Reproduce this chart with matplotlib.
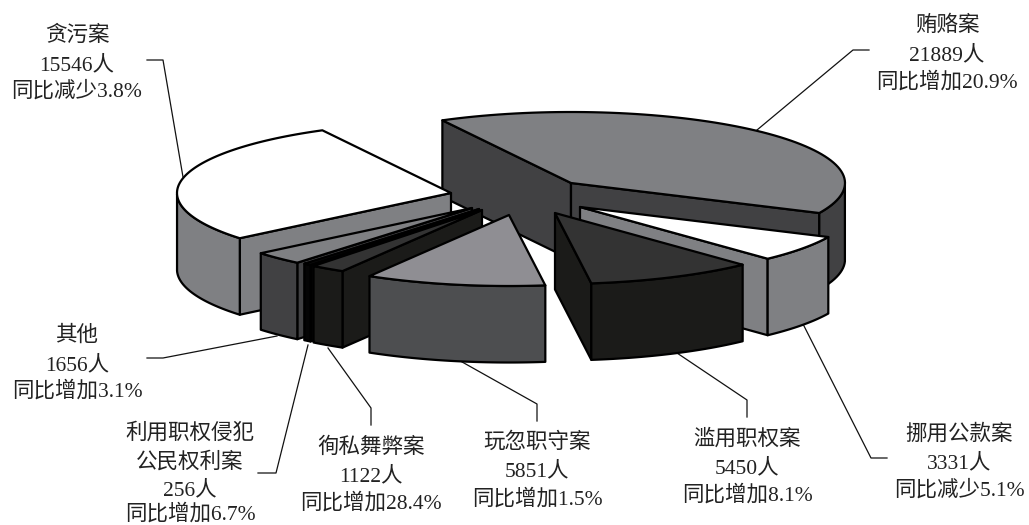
# -*- coding: utf-8 -*-
"""3D style exploded pie: duty crime cases by type (drawn by hand, matplotlib has no 3D pie)."""

import numpy as np
import matplotlib
matplotlib.use("Agg")
import matplotlib.pyplot as plt
from matplotlib.patches import Polygon

plt.rcParams['font.family'] = ['Liberation Serif', 'Noto Sans CJK SC']

# DATA (clockwise, starting from the largest slice)
case_names = ['贿赂案', '挪用公款案', '滥用职权案', '玩忽职守案', '徇私舞弊案',
              '利用职权侵犯\n公民权利案', '其他', '贪污案']
people = [21889, 3331, 5450, 5851, 1122, 256, 1656, 15546]
changes = ['同比增加20.9%', '同比减少5.1%', '同比增加8.1%', '同比增加1.5%',
           '同比增加28.4%', '同比增加6.7%', '同比增加3.1%', '同比减少3.8%']

# LAYOUT, all in pixels of the 1029x525 picture
RX, RY = 274, 71         # half axes of the pie ellipse
DEPTH = 76.5             # thickness of the pie
START = -28              # angle of first slice, degrees clockwise from top
BASELINE = 8             # glyph centre to baseline
apex = [(571, 183), (580, 207), (555, 213), (509, 215),
        (482, 210), (479, 209), (472, 208), (451, 193)]
top_colors = ['#7f8083', '#ffffff', '#333333', '#8f8e93', '#333333', '#0a0a0a', '#7f8083', '#ffffff']
side_colors = ['#414143', '#7f8083', '#1b1b19', '#4d4e50', '#1b1b19', '#050505', '#414143', '#7f8083']
draw_order = [0, 7, 1, 6, 5, 4, 3, 2]  # back to front

label_x = [947, 959, 747, 537, 371, 190, 77, 77]
label_y = [[23, 52, 80], [432, 460, 488], [437, 465, 493], [440, 468, 497],
           [445, 473, 501], [431, 460, 487, 512], [333, 362, 389], [33, 62, 89]]
leaders = [
    [(757, 130), (853, 50), (869, 50)],
    [(803, 324), (871, 458), (887, 458)],
    [(677, 353), (747, 400), (747, 417)],
    [(455, 358), (537, 404), (537, 421)],
    [(328, 348), (371, 408), (371, 425)],
    [(308, 345), (276, 473), (258, 473)],
    [(277, 336), (163, 358), (147, 358)],
    [(183, 177), (163, 60), (147, 60)],
]


def rim_point(center, t):
    return (center[0] + RX * np.sin(t), center[1] - RY * np.cos(t))


def draw_slice(ax, center, t0, t1, top, side):
    ts = np.linspace(t0, t1, 80)
    rim = [rim_point(center, t) for t in ts]

    def face(points, color):
        low = [(x, y + DEPTH) for x, y in reversed(points)]
        ax.add_patch(Polygon(points + low, closed=True, facecolor=color,
                             edgecolor='black', linewidth=1.6, joinstyle='round'))

    # cut faces, only the ones turned to the viewer
    if np.sin(t0) < 0:
        face([center, rim[0]], side)
    if np.sin(t1) > 0:
        face([center, rim[-1]], side)

    # outer wall, front half only
    front = [p for p, t in zip(rim, ts) if np.cos(t) < 0]
    if len(front) > 1:
        face(front, side)

    ax.add_patch(Polygon([center] + rim, closed=True, facecolor=top,
                         edgecolor='black', linewidth=1.6, joinstyle='round'))


fig = plt.figure(figsize=(10.29, 5.25), dpi=100)
ax = fig.add_axes([0, 0, 1, 1])
ax.set_xlim(0, 1029)
ax.set_ylim(525, 0)
ax.axis('off')

# slice angles come from the values
angles = np.radians(START + np.cumsum([0] + people) / sum(people) * 360)

for line in leaders:
    xs, ys = zip(*line)
    ax.plot(xs, ys, color='#111111', linewidth=0.9, zorder=0)

for i in draw_order:
    draw_slice(ax, apex[i], angles[i], angles[i + 1], top_colors[i], side_colors[i])

for i in range(len(people)):
    lines = case_names[i].split('\n') + [f'{people[i]}人', changes[i]]
    for text, y in zip(lines, label_y[i]):
        ax.text(label_x[i], y + BASELINE, text, ha='center', va='baseline',
                fontsize=15.5, color='#222222')

fig.savefig('out.png', dpi=100)
